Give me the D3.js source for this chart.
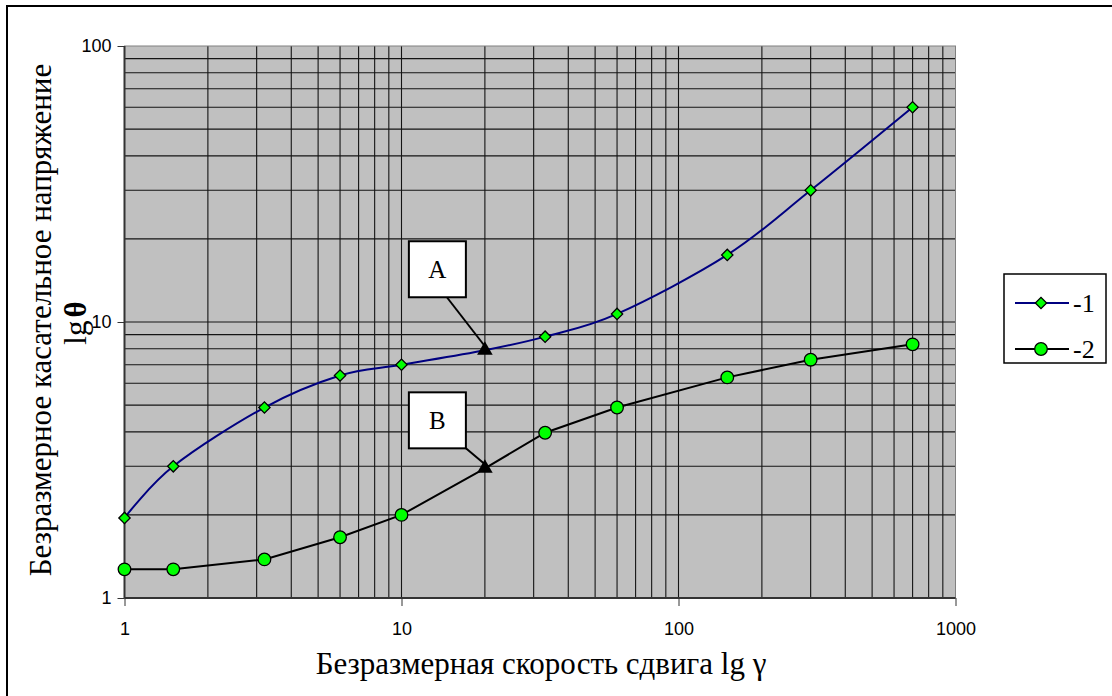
<!DOCTYPE html>
<html>
<head>
<meta charset="utf-8">
<script src="https://cdn.jsdelivr.net/npm/d3@7"></script>
<style>
  html, body { margin: 0; padding: 0; background: #fff; }
  svg { display: block; }
</style>
</head>
<body>
<svg id="chart" width="1112" height="696"></svg>
<script>
// Shear rate (x) and dimensionless shear stress for two fluids
const shearRate = [1, 1.5, 3.2, 6, 10, 20, 33, 60, 150, 300, 700];
const stress1   = [1.95, 3, 4.9, 6.4, 7, 7.9, 8.85, 10.7, 17.5, 30, 60];
const stress2   = [1.27, 1.27, 1.38, 1.66, 2, 2.95, 3.97, 4.9, 6.3, 7.3, 8.3];
const xTicks = [1, 10, 100, 1000];
const yTicks = [1, 10, 100];
const seriesNames = ["-1", "-2"];
// Points highlighted with call-out boxes: [series index, point index, label]
const callouts = [[0, 5, "A"], [1, 5, "B"]];

const svg = d3.select("#chart");
const serif = "'Liberation Serif', 'Times New Roman', serif";
const sans = "'Liberation Sans', Arial, sans-serif";

const plot = { left: 124.5, right: 955.5, top: 46, bottom: 598 };
const x = d3.scaleLog().domain([1, 1000]).range([plot.left, plot.right]);
const y = d3.scaleLog().domain([1, 100]).range([plot.bottom, plot.top]);

// outer chart frame
svg.append("rect")
  .attr("x", 7).attr("y", 6).attr("width", 1300).attr("height", 900)
  .attr("fill", "none").attr("stroke", "#000").attr("stroke-width", 2);

// plot area
svg.append("rect")
  .attr("x", plot.left).attr("y", plot.top)
  .attr("width", plot.right - plot.left).attr("height", plot.bottom - plot.top)
  .attr("fill", "#c0c0c0");

// log grid: every 1..9 step within each decade
function logSteps(lo, hi) {
  const out = [];
  for (let d = lo; d < hi; d *= 10) for (let k = 1; k < 10; k++) out.push(d * k);
  out.push(hi);
  return out;
}
const grid = svg.append("g").attr("stroke", "#141414").attr("stroke-width", 1.1);
grid.selectAll("line.v").data(logSteps(1, 1000).filter(v => v > 1 && v < 1000)).join("line")
  .attr("x1", d => x(d)).attr("x2", d => x(d))
  .attr("y1", plot.top).attr("y2", plot.bottom);
grid.selectAll("line.h").data(logSteps(1, 100).filter(v => v > 1 && v < 100)).join("line")
  .attr("x1", plot.left).attr("x2", plot.right)
  .attr("y1", d => y(d)).attr("y2", d => y(d));

// plot border
svg.append("rect")
  .attr("x", plot.left).attr("y", plot.top)
  .attr("width", plot.right - plot.left).attr("height", plot.bottom - plot.top)
  .attr("fill", "none").attr("stroke", "#808080").attr("stroke-width", 1);

// axes
const xAxis = d3.axisBottom(x).tickValues(xTicks).tickFormat(d3.format("d"))
  .tickSize(8).tickPadding(16);
const yAxis = d3.axisLeft(y).tickValues(yTicks).tickFormat(d3.format("d"))
  .tickSize(7).tickPadding(6);

const gx = svg.append("g").attr("transform", `translate(0,${plot.bottom})`).call(xAxis);
const gy = svg.append("g").attr("transform", `translate(${plot.left},0)`).call(yAxis);
[gx, gy].forEach(g => {
  g.select(".domain").attr("stroke", "#333").attr("stroke-width", 2);
  g.selectAll(".tick line").attr("stroke", "#333").attr("stroke-width", 1);
  g.selectAll(".tick text").attr("font-family", sans).attr("font-size", 18).attr("fill", "#000");
});
gx.select(".domain").attr("d", `M${plot.left},0H${plot.right}`);
gy.select(".domain").attr("d", `M0,${plot.bottom}V${plot.top}`);

// series
const series = [
  { values: stress1, color: "#000080", curve: d3.curveCardinal.tension(0), marker: "diamond" },
  { values: stress2, color: "#000000", curve: d3.curveLinear, marker: "circle" }
];
const diamond = d3.symbol().type(d3.symbolSquare).size(64);
const triangle = d3.symbol().type(d3.symbolTriangle).size(105);

series.forEach((s, si) => {
  const pts = shearRate.map((r, i) => [r, s.values[i], i]);
  const line = d3.line().x(d => x(d[0])).y(d => y(d[1])).curve(s.curve);
  svg.append("path").datum(pts)
    .attr("d", line).attr("fill", "none")
    .attr("stroke", s.color).attr("stroke-width", 2);
  const marked = pts.filter(p => !callouts.some(c => c[0] === si && c[1] === p[2]));
  const g = svg.append("g");
  if (s.marker === "diamond") {
    g.selectAll("path").data(marked).join("path")
      .attr("d", diamond)
      .attr("transform", d => `translate(${x(d[0])},${y(d[1])}) rotate(45)`)
      .attr("fill", "#00ff00").attr("stroke", "#000").attr("stroke-width", 1.3);
  } else {
    g.selectAll("circle").data(marked).join("circle")
      .attr("cx", d => x(d[0])).attr("cy", d => y(d[1])).attr("r", 6.3)
      .attr("fill", "#00ff00").attr("stroke", "#000").attr("stroke-width", 1.3);
  }
});

// call-out boxes pointing at highlighted points
callouts.forEach(([si, pi, label]) => {
  const px = x(shearRate[pi]);
  const py = y(series[si].values[pi]);
  const bw = 57, bh = 56;
  const bx = px - 76, by = si === 0 ? py - 109 : py - 76;
  const lx = si === 0 ? bx + 38 : bx + bw;
  svg.append("line")
    .attr("x1", lx).attr("y1", by + bh).attr("x2", px).attr("y2", py - 4)
    .attr("stroke", "#000").attr("stroke-width", 2);
  svg.append("rect")
    .attr("x", bx).attr("y", by).attr("width", bw).attr("height", bh)
    .attr("fill", "#fff").attr("stroke", "#000").attr("stroke-width", 2);
  svg.append("text")
    .attr("x", bx + bw / 2).attr("y", by + bh / 2 + 8.5)
    .attr("text-anchor", "middle").attr("font-family", serif).attr("font-size", 25)
    .text(label);
  svg.append("path")
    .attr("d", triangle)
    .attr("transform", `translate(${px},${py})`)
    .attr("fill", "#000");
});

// axis titles
svg.append("text")
  .attr("x", 541).attr("y", 674)
  .attr("text-anchor", "middle").attr("font-family", serif).attr("font-size", 31)
  .text("Безразмерная скорость сдвига lg γ");

svg.append("text")
  .attr("transform", "translate(51,320) rotate(-90)")
  .attr("text-anchor", "middle").attr("font-family", serif).attr("font-size", 31)
  .text("Безразмерное касательное напряжение");

const yTitle2 = svg.append("text")
  .attr("transform", "translate(86,323) rotate(-90)")
  .attr("text-anchor", "middle").attr("font-family", serif).attr("font-size", 31);
yTitle2.append("tspan").text("lg");
yTitle2.append("tspan").attr("font-weight", "bold").attr("dx", 3).text("θ");

// legend
const lg = svg.append("g").attr("transform", "translate(1004,274)");
lg.append("rect").attr("width", 102).attr("height", 89)
  .attr("fill", "#fff").attr("stroke", "#000").attr("stroke-width", 1.5);
series.forEach((s, i) => {
  const ly = 29 + i * 46;
  lg.append("line").attr("x1", 11).attr("x2", 65).attr("y1", ly).attr("y2", ly)
    .attr("stroke", s.color).attr("stroke-width", 2);
  if (s.marker === "diamond") {
    lg.append("path").attr("d", diamond)
      .attr("transform", `translate(37,${ly}) rotate(45)`)
      .attr("fill", "#00ff00").attr("stroke", "#000").attr("stroke-width", 1.3);
  } else {
    lg.append("circle").attr("cx", 37).attr("cy", ly).attr("r", 6.3)
      .attr("fill", "#00ff00").attr("stroke", "#000").attr("stroke-width", 1.3);
  }
  lg.append("text").attr("x", 69).attr("y", ly + 9)
    .attr("font-family", serif).attr("font-size", 26).text(seriesNames[i]);
});
</script>
</body>
</html>
